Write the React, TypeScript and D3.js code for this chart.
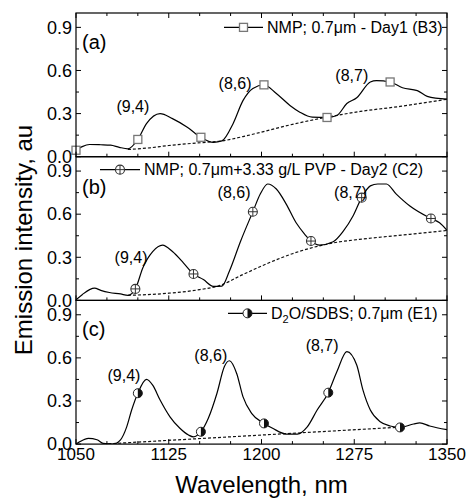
import React from "react";
import * as d3 from "d3";

// ---------- data ----------
const xTicksMajor = [1050, 1125, 1200, 1275, 1350];
const xTicksMinor = [1075, 1100, 1150, 1175, 1225, 1250, 1300, 1325];
const yTicksMajor = [0, 0.3, 0.6, 0.9];
const yTicksMinor = [0.15, 0.45, 0.75];
const yTickLabels = ["0.0", "0.3", "0.6", "0.9"];

// Panel (a): NMP; 0.7µm - Day1 (B3)
const curveA: [number, number][] = [
  [1050, 0.045], [1055, 0.07], [1061, 0.085], [1070, 0.083], [1078, 0.08], [1085, 0.065],
  [1092, 0.055], [1100, 0.12], [1107, 0.23], [1118, 0.3], [1128, 0.265], [1140, 0.205],
  [1151, 0.135], [1161, 0.1], [1168, 0.11], [1177, 0.23], [1185, 0.39], [1193, 0.475],
  [1202, 0.5], [1212, 0.44], [1223, 0.357], [1231, 0.31], [1241, 0.275], [1253, 0.273],
  [1261, 0.287], [1269, 0.37], [1277, 0.41], [1288, 0.52], [1293, 0.53], [1304, 0.52],
  [1314, 0.48], [1326, 0.46], [1334, 0.42], [1350, 0.4],
];
const baseA: [number, number][] = [
  [1092, 0.05], [1110, 0.062], [1125, 0.078], [1140, 0.09], [1155, 0.1], [1168, 0.11],
  [1185, 0.14], [1204, 0.18], [1225, 0.225], [1253, 0.275], [1280, 0.315], [1312, 0.35], [1350, 0.4],
];
const markersA: [number, number][] = [
  [1050, 0.045], [1100, 0.12], [1151, 0.135], [1202, 0.5], [1253, 0.273], [1304, 0.52],
];

// Panel (b): NMP; 0.7µm+3.33 g/L PVP - Day2 (C2)
const curveB: [number, number][] = [
  [1050, 0.005], [1055, 0.04], [1061, 0.075], [1065, 0.085], [1070, 0.07], [1077, 0.055],
  [1086, 0.045], [1092, 0.035], [1098, 0.08], [1104, 0.226], [1112, 0.34], [1120, 0.385],
  [1128, 0.34], [1137, 0.26], [1145, 0.184], [1153, 0.145], [1161, 0.098], [1168, 0.1],
  [1174, 0.203], [1183, 0.41], [1193, 0.617], [1199, 0.74], [1205, 0.81], [1212, 0.775],
  [1220, 0.67], [1228, 0.54], [1235, 0.46], [1240, 0.413], [1247, 0.385], [1258, 0.408],
  [1266, 0.48], [1274, 0.587], [1281, 0.715], [1288, 0.797], [1294, 0.81], [1301, 0.81],
  [1309, 0.74], [1320, 0.657], [1337, 0.57], [1344, 0.54], [1350, 0.487],
];
const baseB: [number, number][] = [
  [1092, 0.035], [1125, 0.05], [1150, 0.075], [1165, 0.1], [1185, 0.18], [1204, 0.254],
  [1225, 0.325], [1247, 0.38], [1258, 0.4], [1285, 0.43], [1320, 0.46], [1350, 0.487],
];
const markersB: [number, number][] = [
  [1098, 0.08], [1145, 0.184], [1193, 0.617], [1240, 0.413], [1281, 0.715], [1337, 0.57],
];

// Panel (c): D2O/SDBS; 0.7µm (E1)
const curveC: [number, number][] = [
  [1050, 0.0], [1053, 0.016], [1060, 0.04], [1067, 0.03], [1072, 0.005], [1080, 0.0],
  [1086, 0.03], [1091, 0.12], [1095, 0.237], [1100, 0.354], [1107, 0.45], [1112, 0.41],
  [1118, 0.307], [1126, 0.19], [1134, 0.11], [1141, 0.063], [1145, 0.05], [1151, 0.086],
  [1157, 0.18], [1164, 0.354], [1170, 0.54], [1174, 0.58], [1180, 0.49], [1185, 0.33],
  [1192, 0.214], [1202, 0.144], [1209, 0.11], [1220, 0.07], [1229, 0.07], [1237, 0.12],
  [1245, 0.237], [1254, 0.358], [1261, 0.505], [1269, 0.644], [1277, 0.55], [1282, 0.377],
  [1288, 0.237], [1296, 0.156], [1304, 0.126], [1312, 0.116], [1323, 0.14], [1328, 0.148],
  [1336, 0.126], [1350, 0.1],
];
const baseC: [number, number][] = [[1072, 0.0], [1312, 0.118]];
const markersC: [number, number][] = [
  [1100, 0.354], [1151, 0.086], [1202, 0.144], [1254, 0.358], [1312, 0.116],
];

const peakNames = ["(9,4)", "(8,6)", "(8,7)"];
const peakLabelA: [number, number][] = [[1096, 0.31], [1178.6, 0.47], [1273, 0.525]];
const peakLabelB: [number, number][] = [[1094.5, 0.26], [1177.8, 0.71], [1272, 0.71]];
const peakLabelC: [number, number][] = [[1088.8, 0.44], [1159, 0.58], [1249, 0.65]];

const panelLetters = ["(a)", "(b)", "(c)"];

// ---------- layout ----------
const W = 469;
const H = 502;
const left = 76;
const right = 447;
const panelTop = 13;
const panelH = 143.7;
const FONT = "'Liberation Sans', Arial, Helvetica, sans-serif";

const x = d3.scaleLinear().domain([1050, 1350]).range([left, right]);

type MarkerKind = "square" | "plus" | "half";

function Marker({ kind, cx, cy }: { kind: MarkerKind; cx: number; cy: number }) {
  if (kind === "square") {
    return <rect x={cx - 4} y={cy - 4} width={8} height={8} fill="#fff" stroke="#777" strokeWidth={1.3} />;
  }
  if (kind === "plus") {
    const r = 4.5;
    return (
      <g>
        <circle cx={cx} cy={cy} r={r} fill="#fff" stroke="#333" strokeWidth={1.1} />
        <line x1={cx - r} x2={cx + r} y1={cy} y2={cy} stroke="#333" strokeWidth={1} />
        <line x1={cx} x2={cx} y1={cy - r} y2={cy + r} stroke="#333" strokeWidth={1} />
      </g>
    );
  }
  const r = 4.5;
  return (
    <g>
      <circle cx={cx} cy={cy} r={r} fill="#fff" stroke="#222" strokeWidth={1} />
      <path d={`M${cx},${cy - r} A${r},${r} 0 0 1 ${cx},${cy + r} Z`} fill="#111" />
    </g>
  );
}

interface PanelDef {
  curve: [number, number][];
  base: [number, number][];
  markers: [number, number][];
  labels: [number, number][];
  kind: MarkerKind;
  legend: React.ReactNode;
  legendLineX: [number, number];
  legendY: number; // vertical value for legend row
  letterY: number;
}

const panels: PanelDef[] = [
  {
    curve: curveA, base: baseA, markers: markersA, labels: peakLabelA, kind: "square",
    legend: <>NMP; 0.7μm - Day1 (B3)</>,
    legendLineX: [224, 263], legendY: 0.9, letterY: 0.75,
  },
  {
    curve: curveB, base: baseB, markers: markersB, labels: peakLabelB, kind: "plus",
    legend: <>NMP; 0.7μm+3.33 g/L PVP - Day2 (C2)</>,
    legendLineX: [100, 140], legendY: 0.91, letterY: 0.74,
  },
  {
    curve: curveC, base: baseC, markers: markersC, labels: peakLabelC, kind: "half",
    legend: (
      <>
        D<tspan dy={4} fontSize={11}>2</tspan>
        <tspan dy={-4}>O/SDBS; 0.7μm (E1)</tspan>
      </>
    ),
    legendLineX: [228, 267], legendY: 0.91, letterY: 0.75,
  },
];

export default function App() {
  return (
    <svg width={W} height={H} style={{ display: "block", position: "absolute", left: 0, top: 0, background: "#fff" }}>
      <defs>
        {panels.map((_, i) => (
          <clipPath id={`clip${i}`} key={i}>
            <rect x={left} y={panelTop + i * panelH} width={right - left} height={panelH} />
          </clipPath>
        ))}
      </defs>
      {panels.map((p, i) => {
        const top = panelTop + i * panelH;
        const bottom = top + panelH;
        const y = d3.scaleLinear().domain([0, 1]).range([bottom, top]);
        const line = d3.line<[number, number]>().x((d) => x(d[0])).y((d) => y(d[1])).curve(d3.curveMonotoneX);
        const ly = y(p.legendY);
        const lmid = (p.legendLineX[0] + p.legendLineX[1]) / 2;
        return (
          <g key={i}>
            <g clipPath={`url(#clip${i})`}>
              <path d={line(p.base) || ""} fill="none" stroke="#111" strokeWidth={1.2} strokeDasharray="3,2" />
              <path d={line(p.curve) || ""} fill="none" stroke="#000" strokeWidth={1.2} />
            </g>
            {p.markers.map((m, j) => (
              <Marker key={j} kind={p.kind} cx={x(m[0])} cy={y(m[1])} />
            ))}
            {/* frame */}
            <rect x={left} y={top} width={right - left} height={panelH} fill="none" stroke="#000" strokeWidth={1.2} />
            {/* x ticks on bottom, pointing inward */}
            {xTicksMajor.map((t) => (
              <line key={`xM${t}`} x1={x(t)} x2={x(t)} y1={bottom} y2={bottom - 5} stroke="#000" strokeWidth={1} />
            ))}
            {xTicksMinor.map((t) => (
              <line key={`xm${t}`} x1={x(t)} x2={x(t)} y1={bottom} y2={bottom - 3} stroke="#000" strokeWidth={1} />
            ))}
            {i === 0 &&
              xTicksMajor.map((t) => (
                <line key={`xtM${t}`} x1={x(t)} x2={x(t)} y1={top} y2={top + 5} stroke="#000" strokeWidth={1} />
              ))}
            {i === 0 &&
              xTicksMinor.map((t) => (
                <line key={`xtm${t}`} x1={x(t)} x2={x(t)} y1={top} y2={top + 3} stroke="#000" strokeWidth={1} />
              ))}
            {/* y ticks */}
            {yTicksMajor.map((t) => (
              <g key={`yM${t}`}>
                <line x1={left} x2={left + 5} y1={y(t)} y2={y(t)} stroke="#000" strokeWidth={1} />
                <line x1={right} x2={right - 5} y1={y(t)} y2={y(t)} stroke="#000" strokeWidth={1} />
              </g>
            ))}
            {yTicksMinor.map((t) => (
              <g key={`ym${t}`}>
                <line x1={left} x2={left + 3} y1={y(t)} y2={y(t)} stroke="#000" strokeWidth={1} />
                <line x1={right} x2={right - 3} y1={y(t)} y2={y(t)} stroke="#000" strokeWidth={1} />
              </g>
            ))}
            {yTicksMajor.map((t, k) => (
              <text key={`yl${t}`} x={left - 4} y={y(t)} dy="0.35em" textAnchor="end" fontFamily={FONT} fontSize={18}>
                {yTickLabels[k]}
              </text>
            ))}
            {/* panel letter */}
            <text x={left + 6} y={y(p.letterY)} fontFamily={FONT} fontSize={20}>
              {panelLetters[i]}
            </text>
            {/* peak labels */}
            {p.labels.map((l, k) => (
              <text key={k} x={x(l[0])} y={y(l[1])} textAnchor="middle" fontFamily={FONT} fontSize={16}>
                {peakNames[k]}
              </text>
            ))}
            {/* legend */}
            <line x1={p.legendLineX[0]} x2={p.legendLineX[1]} y1={ly} y2={ly} stroke="#000" strokeWidth={1.3} />
            <Marker kind={p.kind} cx={lmid} cy={ly} />
            <text x={p.legendLineX[1] + 4} y={ly} dy="0.35em" fontFamily={FONT} fontSize={16}>
              {p.legend}
            </text>
          </g>
        );
      })}
      {/* x tick labels */}
      {xTicksMajor.map((t) => (
        <text key={`xl${t}`} x={x(t)} y={460} textAnchor="middle" fontFamily={FONT} fontSize={17}>
          {t}
        </text>
      ))}
      <text x={(left + right) / 2} y={493} textAnchor="middle" fontFamily={FONT} fontSize={24}>
        Wavelength, nm
      </text>
      <text transform={`translate(32,240) rotate(-90)`} textAnchor="middle" fontFamily={FONT} fontSize={24}>
        Emission intensity, au
      </text>
    </svg>
  );
}
